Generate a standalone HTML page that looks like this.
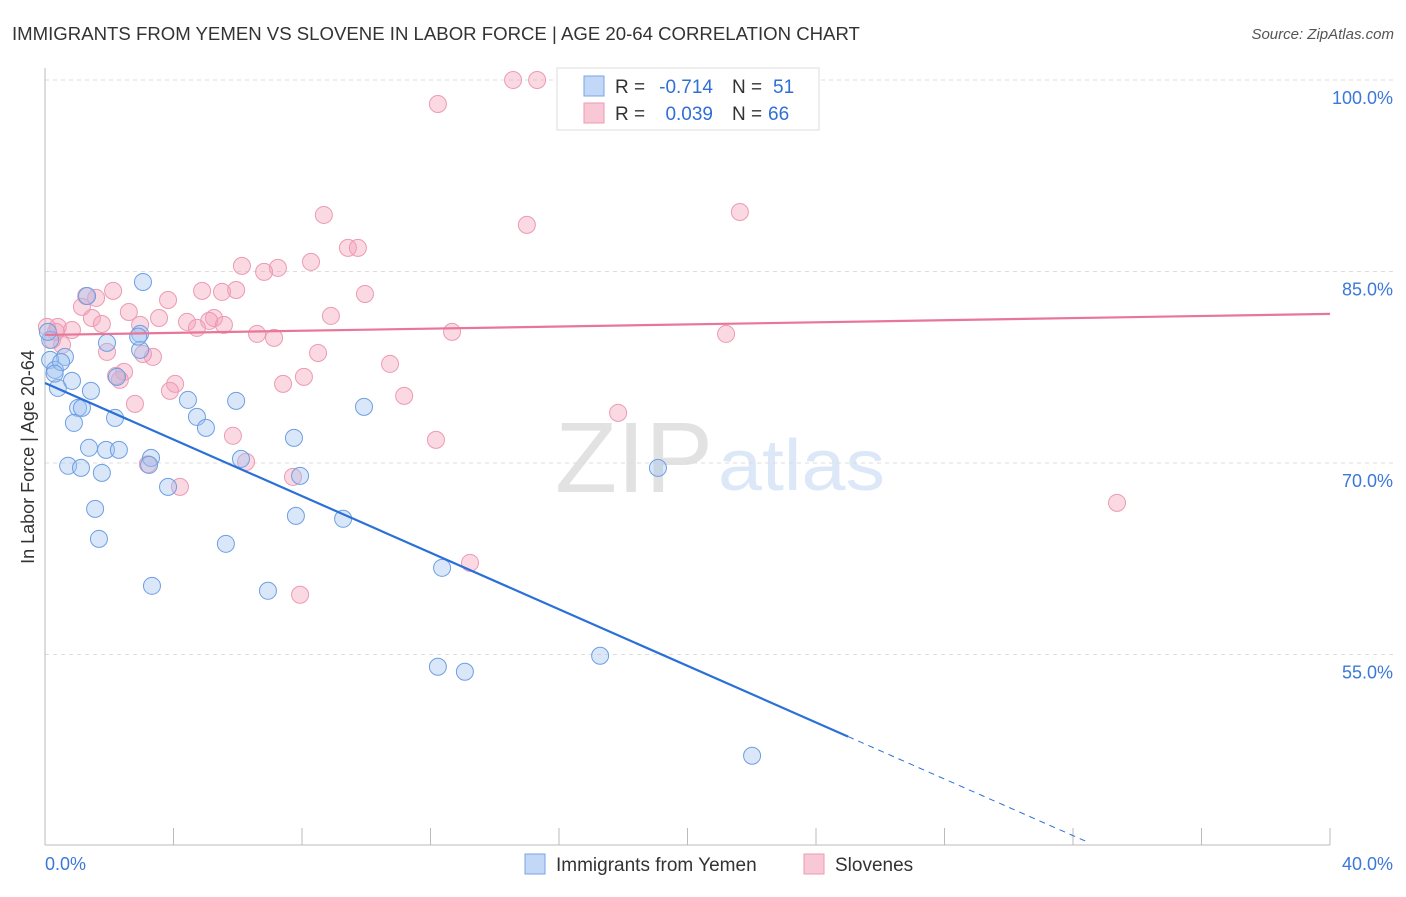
<!DOCTYPE html>
<html><head><meta charset="utf-8"><style>
body{margin:0;background:#fff;font-family:"Liberation Sans",sans-serif}
svg text{font-family:"Liberation Sans",sans-serif}
</style></head><body>
<svg width="1406" height="892" id="c">
<text x="12" y="40" font-size="18.6" fill="#333">IMMIGRANTS FROM YEMEN VS SLOVENE IN LABOR FORCE | AGE 20-64 CORRELATION CHART</text>
<text x="1394" y="39" font-size="15" fill="#555" font-style="italic" text-anchor="end">Source: ZipAtlas.com</text>
<text x="555" y="492" font-size="100" fill="#e2e2e2" font-family="Liberation Serif" textLength="158" lengthAdjust="spacingAndGlyphs">ZIP</text>
<text x="718" y="490" font-size="72" fill="#dce8f7" textLength="167" lengthAdjust="spacingAndGlyphs">atlas</text>
<text transform="translate(34,457) rotate(-90)" font-size="18" fill="#333" text-anchor="middle">In Labor Force | Age 20-64</text>
<g id="grid"></g><g id="pts"></g><g id="lines"></g>
<g>
<rect x="557" y="68" width="262" height="62" fill="#fff" stroke="#ddd"/>
<rect x="584" y="76" width="20" height="20" fill="#c3d8f6" stroke="#7aa6e6"/>
<rect x="584" y="103" width="20" height="20" fill="#f9c8d6" stroke="#ee9ab3"/>
<text x="615" y="93" font-size="19" fill="#333">R =</text>
<text x="713" y="93" font-size="19" fill="#2f6fd6" text-anchor="end">-0.714</text>
<text x="732" y="93" font-size="19" fill="#333">N =</text>
<text x="773" y="93" font-size="19" fill="#2f6fd6">51</text>
<text x="615" y="120" font-size="19" fill="#333">R =</text>
<text x="713" y="120" font-size="19" fill="#2f6fd6" text-anchor="end">0.039</text>
<text x="732" y="120" font-size="19" fill="#333">N =</text>
<text x="768" y="120" font-size="19" fill="#2f6fd6">66</text>
</g>
<g>
<rect x="525" y="854" width="20" height="20" fill="#c3d8f6" stroke="#7aa6e6"/>
<text x="556" y="871" font-size="19" fill="#333">Immigrants from Yemen</text>
<rect x="804" y="854" width="20" height="20" fill="#f9c8d6" stroke="#ee9ab3"/>
<text x="835" y="871" font-size="19" fill="#333">Slovenes</text>
</g>
</svg>
<script>
const yTicks=[100,85,70,55];
const xTickLabels=["0.0%","40.0%"];
const blueX=[3.05,1.31,1.93,2.96,2.96,0.62,0.16,0.31,2.24,0.84,0.40,1.43,1.03,1.15,4.45,5.95,9.93,2.18,4.73,0.90,5.01,7.75,1.37,1.90,2.30,0.72,1.12,1.77,3.30,3.24,6.10,7.94,19.08,3.83,1.56,7.81,9.28,1.68,5.63,3.33,6.94,12.36,12.23,13.07,17.28,22.01,0.16,0.09,0.5,0.3,2.9];
const blueY=[84.18,83.08,79.41,80.11,78.86,78.31,78.08,77.29,76.75,76.43,75.88,75.65,74.32,74.32,74.94,74.87,74.40,73.53,73.61,73.14,72.75,71.97,71.19,71.03,71.03,69.78,69.62,69.23,70.40,69.85,70.32,68.99,69.62,68.13,66.41,65.86,65.63,64.06,63.67,60.38,59.99,61.79,54.04,53.65,54.90,47.07,79.64,80.27,77.9,77.0,79.9];
const pinkX=[14.57,15.32,12.23,21.63,8.68,15.00,9.43,9.74,8.28,6.13,7.25,6.82,2.12,1.15,1.59,9.96,3.83,5.95,4.89,5.51,2.61,3.55,8.90,1.46,4.42,5.26,5.11,5.57,4.73,2.96,0.06,0.40,0.84,1.77,6.60,7.13,12.67,21.20,0.53,1.93,3.36,8.50,3.05,10.74,2.46,2.33,4.05,3.89,7.41,8.06,11.18,2.80,17.84,5.85,12.17,6.26,7.72,4.20,33.37,13.23,7.94,0.22,0.34,2.21,1.28,3.2];
const pinkY=[100,100,98.12,89.66,89.43,88.65,86.85,86.85,85.75,85.44,85.28,84.97,83.48,82.23,82.93,83.24,82.77,83.55,83.48,83.40,81.83,81.36,81.52,81.36,81.05,81.36,81.13,80.82,80.58,80.82,80.66,80.66,80.42,80.89,80.11,79.80,80.27,80.11,79.25,78.70,78.31,78.62,78.54,77.76,77.14,76.51,76.20,75.65,76.20,76.75,75.26,74.63,73.93,72.13,71.81,70.09,68.91,68.13,66.88,62.18,59.68,79.64,80.27,76.82,83.08,69.9];
const blueTrend=[76.27,-1.108];
const pinkTrend=[80.03,0.04125];
const X=v=>45+v/40*1285, Y=v=>80+(100-v)/15*191.5;
const NS="http://www.w3.org/2000/svg";
function mk(t,a,p){const e=document.createElementNS(NS,t);for(const k in a)e.setAttribute(k,a[k]);p.appendChild(e);return e;}
const g=document.getElementById('grid');
yTicks.forEach(v=>{const l=mk('line',{x1:45,x2:1395,y1:Y(v),y2:Y(v),stroke:'#ddd','stroke-dasharray':'4,4'},g);


const t=mk('text',{x:1393,y:Y(v)+24,'font-size':18,fill:'#3b78d8','text-anchor':'end'},g);t.textContent=v.toFixed(1)+'%';

});
mk('line',{x1:45,x2:45,y1:68,y2:845,stroke:'#bbb'},g);
mk('line',{x1:45,x2:1330,y1:845,y2:845,stroke:'#bbb'},g);
for(let i=1;i<=10;i++){const l=mk('line',{x1:X(i*4),x2:X(i*4),y1:828,y2:845,stroke:'#bbb'},g);

}
[[0,'start',45],[40,'end',1393]].forEach((d,i)=>{const t=mk('text',{x:d[2],y:870,'font-size':18,fill:'#3b78d8','text-anchor':d[1]},g);t.textContent=xTickLabels[i];

});
const p=document.getElementById('pts');
pinkX.forEach((x,i)=>{const c=mk('circle',{cx:X(x),cy:Y(pinkY[i]),r:8.5,fill:'rgba(244,160,186,0.4)',stroke:'#ec9ab3','stroke-width':1},p);

});
blueX.forEach((x,i)=>{const c=mk('circle',{cx:X(x),cy:Y(blueY[i]),r:8.5,fill:'rgba(160,196,240,0.4)',stroke:'#6d9fe3','stroke-width':1},p);

});
const L=document.getElementById('lines');
const by=x=>blueTrend[0]+blueTrend[1]*x, py=x=>pinkTrend[0]+pinkTrend[1]*x;
let l=mk('line',{x1:X(0),y1:Y(by(0)),x2:X(25),y2:Y(by(25)),stroke:'#2a70d8','stroke-width':2.2},L);


l=mk('line',{x1:X(25),y1:Y(by(25)),x2:X(32.4),y2:Y(by(32.4)),stroke:'#2a70d8','stroke-width':1,'stroke-dasharray':'6,5'},L);


l=mk('line',{x1:X(0),y1:Y(py(0)),x2:X(40),y2:Y(py(40)),stroke:'#e8769a','stroke-width':2.2},L);


</script>
</body></html>
